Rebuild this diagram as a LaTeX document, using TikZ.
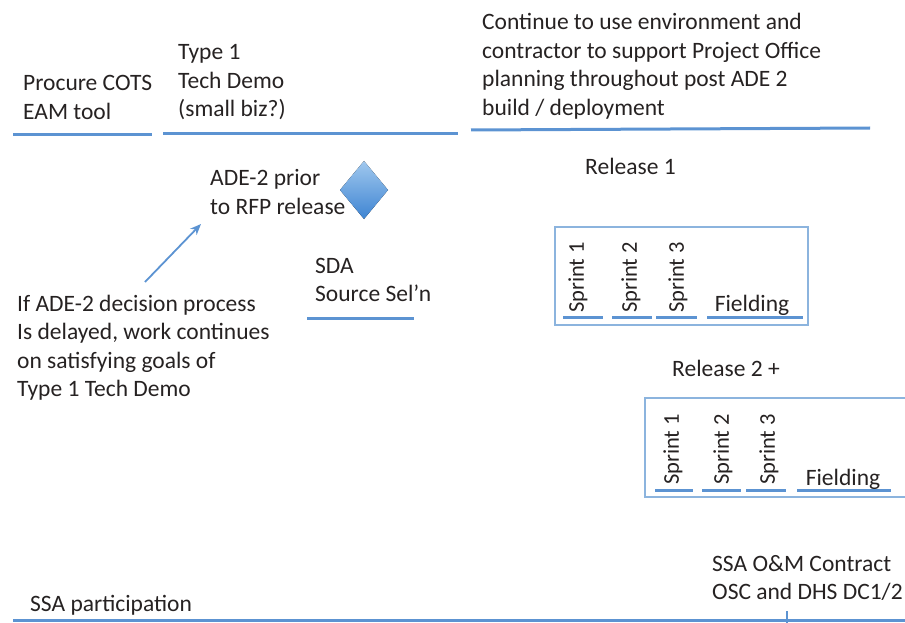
\documentclass[tikz,border=0pt]{standalone}
\usepackage{fontspec}
\setmainfont{Carlito}
\usetikzlibrary{arrows.meta}
\definecolor{barblue}{RGB}{92,147,210}
\definecolor{boxblue}{RGB}{140,180,222}
\definecolor{ink}{RGB}{38,34,34}
\definecolor{gemtop}{RGB}{160,200,238}
\definecolor{gembot}{RGB}{62,132,210}
\tikzset{
  txt/.style={anchor=base west, align=left, inner sep=0pt, text=ink,
    font=\fontsize{23.5}{28.5}\selectfont},
  sprint/.style={rotate=90, anchor=west, inner sep=0pt, text=ink,
    font=\fontsize{22.5}{27}\selectfont},
  field/.style={anchor=base, inner sep=0pt, text=ink,
    font=\fontsize{23.5}{28.5}\selectfont},
  bar/.style={draw=barblue, line width=3pt},
  relbox/.style={draw=boxblue, line width=1.6pt},
  pointer/.style={draw=barblue, line width=1.8pt, -{Stealth[length=11pt,width=9pt]}},
}
\begin{document}
\begin{tikzpicture}[x=1pt,y=-1pt]
\useasboundingbox (0,0) rectangle (905,623);

% top row of activities (base anchors sit on the last line's baseline)
\node[txt] (cots) at (23,119.5) {Procure COTS\\EAM tool};
\node[txt] (demo) at (178,117) {Type 1\\Tech Demo\\(small biz?)};
\node[txt] (cont) at (482,115.5) {Continue to use environment and\\contractor to support Project Office\\planning throughout post ADE 2\\build / deployment};
\draw[bar] (13,135) -- (152,135);
\draw[bar] (163,134) -- (458,134);
\draw[bar] (471,130) -- (870,128);

% decision milestone
\node[txt] (ade) at (210,214.5) {ADE-2 prior\\to RFP release};
\filldraw[draw=none, top color=gemtop, bottom color=gembot]
  (364,161) -- (388,190) -- (364,219) -- (340,190) -- cycle;

% source selection
\node[txt] (sda) at (315,301.5) {SDA\\Source Sel'n};
\draw[bar] (307,318) -- (414,318);

% note on a delayed decision
\node[txt] (note) at (17,396.5) {If ADE-2 decision process\\Is delayed, work continues\\on satisfying goals of\\Type 1 Tech Demo};
\coordinate (tail) at (145,282);
\coordinate (head) at (201,224);
\draw[pointer] (tail) -- (head);

% release 1
\node[txt] (rel1) at (585,175) {Release 1};
\draw[relbox] (555,227) rectangle (808,325);
\node[sprint] (r1s1) at (578,313) {Sprint 1};
\node[sprint] (r1s2) at (631,313) {Sprint 2};
\node[sprint] (r1s3) at (678,313) {Sprint 3};
\node[field] (r1f) at (752,311) {Fielding};
\draw[bar] (563,317) -- (603,317);
\draw[bar] (612,317) -- (652,317);
\draw[bar] (656,317) -- (697,317);
\draw[bar] (707,317) -- (803,317);

% release 2 and later
\node[txt] (rel2) at (672,376) {Release 2 +};
\draw[relbox] (645,398) rectangle (915,497);
\node[sprint] (r2s1) at (673,485) {Sprint 1};
\node[sprint] (r2s2) at (723,485) {Sprint 2};
\node[sprint] (r2s3) at (769,485) {Sprint 3};
\node[field] (r2f) at (843,485) {Fielding};
\draw[bar] (655,490) -- (693,490);
\draw[bar] (702,490) -- (741,490);
\draw[bar] (746,490) -- (786,490);
\draw[bar] (797,490) -- (891,490);

% operations and maintenance
\node[txt] (om) at (712,599.5) {SSA O\&M Contract\\OSC and DHS DC1/2};
\node[txt] (ssa) at (30,611) {SSA participation};
\draw[bar] (13,620) -- (910,620);
\draw[draw=barblue, line width=1.2pt] (787,611) -- (787,623);
\end{tikzpicture}
\end{document}
